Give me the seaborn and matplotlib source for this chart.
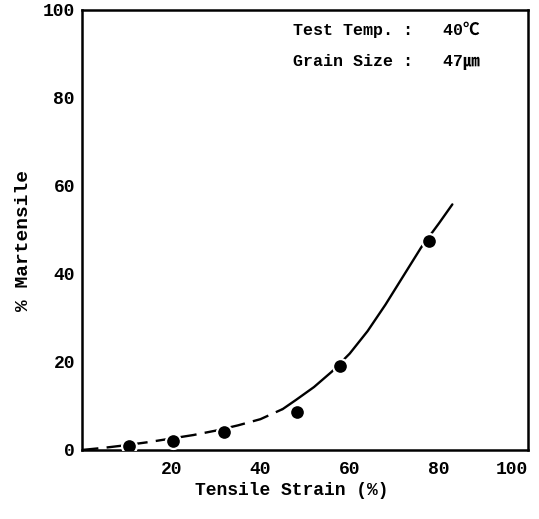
import matplotlib
matplotlib.use("Agg")
import matplotlib.pyplot as plt
import seaborn as sns
import pandas as pd

# Measured data points
strain = [10.6, 20.4, 31.9, 48.3, 57.8, 77.8]
martensite = [0.8, 2.0, 4.1, 8.7, 19.1, 47.4]

# Hand-drawn fitted curve
curve_x_dashed = [0, 5, 10, 15, 20, 25, 30, 35, 40, 45]
curve_y_dashed = [0.0, 0.5, 1.1, 1.8, 2.6, 3.4, 4.4, 5.6, 7.0, 9.3]
curve_x_solid = [45, 48, 52, 56, 60, 64, 68, 72, 76, 80, 83]
curve_y_solid = [9.3, 11.4, 14.3, 17.8, 21.9, 27.0, 33.0, 39.5, 46.0, 51.5, 55.8]

x_ticks = [20, 40, 60, 80, 100]
y_ticks = [0, 20, 40, 60, 80, 100]

sns.set_theme(style="white")
plt.rcParams['font.family'] = ['Liberation Mono', 'Noto Sans CJK JP', 'DejaVu Sans']

fig = plt.figure(figsize=(5.39, 5.19), dpi=100)
ax = fig.add_axes([0.152, 0.133, 0.828, 0.848])

dfa = pd.DataFrame({"x": curve_x_dashed, "y": curve_y_dashed})
dfb = pd.DataFrame({"x": curve_x_solid, "y": curve_y_solid})
sns.lineplot(data=dfa, x="x", y="y", ax=ax, color="black", lw=1.7,
             linestyle=(0, (7, 3.5)), sort=True, estimator=None)
sns.lineplot(data=dfb, x="x", y="y", ax=ax, color="black", lw=1.7,
             sort=True, estimator=None)

dfp = pd.DataFrame({"x": strain, "y": martensite})
sns.scatterplot(data=dfp, x="x", y="y", ax=ax, color="black", s=115,
                edgecolor="white", linewidth=1.6, zorder=5)

ax.set_xlim(0, 100)
ax.set_ylim(0, 100)
ax.set_xticks(x_ticks)
ax.set_yticks(y_ticks)
ax.tick_params(axis="both", direction="in", length=4, width=1.5,
               labelsize=13, colors="black", pad=5)
ax.tick_params(axis="x", pad=8)
for lbl in ax.get_yticklabels():
    lbl.set_fontweight("bold")
for lbl in ax.get_xticklabels():
    lbl.set_fontweight("bold")
xl = ax.get_xticklabels()
xl[-1].set_horizontalalignment("right")
for s in ax.spines.values():
    s.set_color("black")
    s.set_linewidth(1.8)

ax.set_xlabel("Tensile Strain (%)", fontsize=13, fontweight="bold", color="black")
ax.set_ylabel("% Martensile", fontsize=14, fontweight="bold", color="black")
ax.xaxis.set_label_coords(0.47, -0.092)
ax.yaxis.set_label_coords(-0.112, 0.477)
ax.xaxis.label.set_va("center")

ax.text(0.473, 0.955, "Test Temp. :   40\u2103", transform=ax.transAxes,
        fontsize=12, fontweight="bold", ha="left", va="center", color="black")
ax.text(0.473, 0.882, "Grain Size :   47\u339b", transform=ax.transAxes,
        fontsize=12, fontweight="bold", ha="left", va="center", color="black")

fig.savefig("out.png", dpi=100)
